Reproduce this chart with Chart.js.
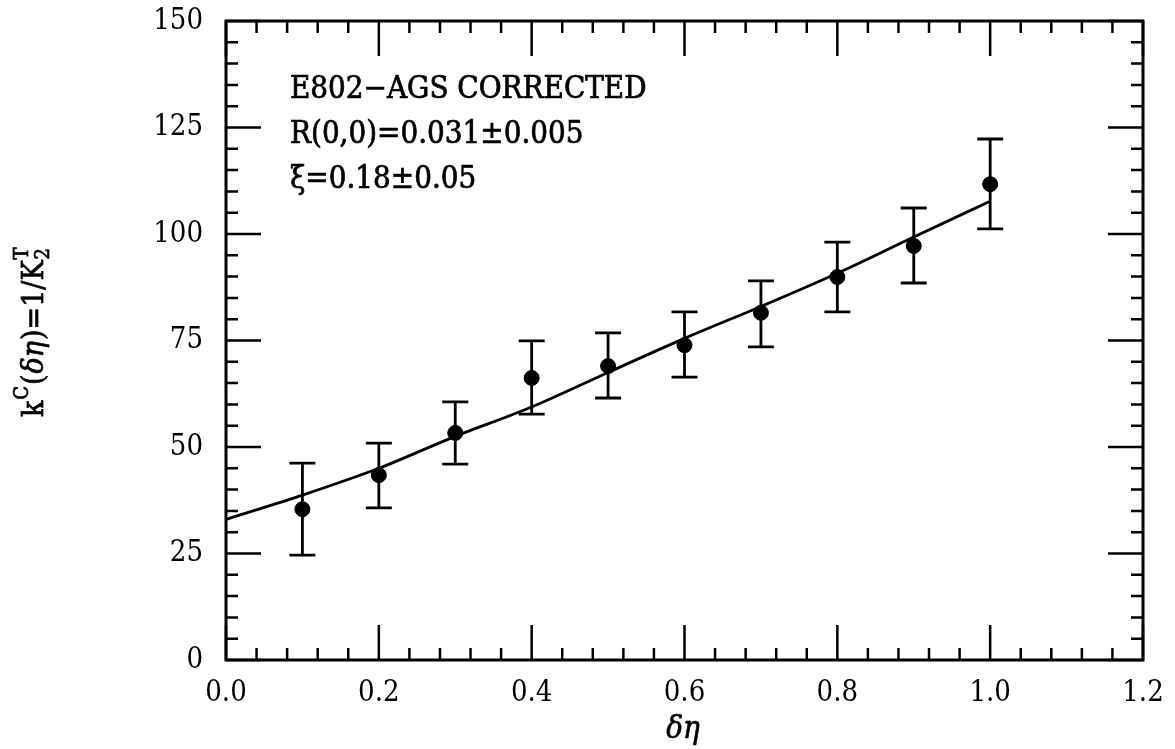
<!DOCTYPE html>
<html>
<head>
<meta charset="utf-8">
<script src="https://cdn.jsdelivr.net/npm/chart.js@4.4.0/dist/chart.umd.min.js"></script>
<style>
    html, body { margin: 0; padding: 0; background: #fff; }
    #wrap { width: 1175px; height: 749px; position: relative; }
</style>
</head>
<body>
<div id="wrap"><canvas id="chart" width="1175" height="749"></canvas></div>
<script>
// measured points (delta eta, k^C) with asymmetric error bar ends
const etaValues = [0.1, 0.2, 0.3, 0.4, 0.5, 0.6, 0.7, 0.8, 0.9, 1.0];
const kValues   = [35.4, 43.4, 53.3, 66.2, 69.0, 73.9, 81.5, 89.9, 97.2, 111.7];
const kErrHigh  = [46.2, 50.9, 60.6, 74.9, 76.8, 81.7, 89.0, 98.1, 106.1, 122.3];
const kErrLow   = [24.6, 35.7, 46.0, 57.7, 61.5, 66.4, 73.5, 81.7, 88.5, 101.2];

// fitted curve
const fitEta = [0.0, 0.1, 0.2, 0.3, 0.4, 0.5, 0.6, 0.7, 0.8, 0.9, 1.0];
const fitK   = [33.0, 38.7, 45.0, 52.5, 59.4, 67.5, 75.5, 83.0, 90.8, 99.3, 107.7];

const xTicks = [0.0, 0.2, 0.4, 0.6, 0.8, 1.0, 1.2];
const yTicks = [0, 25, 50, 75, 100, 125, 150];

const notes = ['E802\u2212AGS CORRECTED', 'R(0,0)=0.031\u00b10.005', '\u03be=0.18\u00b10.05'];

const serif = '"DejaVu Serif Condensed", "DejaVu Serif", serif';

// frame + inward ticks on all four sides
const framePlugin = {
    id: 'frame',
    afterDatasetsDraw(chart) {
        const ctx = chart.ctx;
        const a = chart.chartArea;
        const xs = chart.scales.x, ys = chart.scales.y;
        ctx.save();
        ctx.strokeStyle = '#000';
        ctx.lineWidth = 3;
        ctx.strokeRect(a.left, a.top, a.right - a.left, a.bottom - a.top);

        ctx.lineWidth = 2.5;
        ctx.beginPath();
        for (let v = 0; v <= 1.2001; v += 0.04) {
            const major = Math.abs(v / 0.2 - Math.round(v / 0.2)) < 1e-6;
            const len = major ? 35 : 12;
            const px = xs.getPixelForValue(v);
            ctx.moveTo(px, a.bottom); ctx.lineTo(px, a.bottom - len);
            ctx.moveTo(px, a.top); ctx.lineTo(px, a.top + len);
        }
        for (let v = 0; v <= 150; v += 5) {
            const major = v % 25 === 0;
            const len = major ? 35 : 12;
            const py = ys.getPixelForValue(v);
            ctx.moveTo(a.left, py); ctx.lineTo(a.left + len, py);
            ctx.moveTo(a.right, py); ctx.lineTo(a.right - len, py);
        }
        ctx.stroke();
        ctx.restore();
    }
};

// vertical error bars with caps
const errorBarPlugin = {
    id: 'errorBars',
    afterDatasetsDraw(chart) {
        const ctx = chart.ctx;
        const xs = chart.scales.x, ys = chart.scales.y;
        ctx.save();
        ctx.strokeStyle = '#000';
        ctx.lineWidth = 2.8;
        ctx.beginPath();
        etaValues.forEach((e, i) => {
            const px = xs.getPixelForValue(e);
            const hi = ys.getPixelForValue(kErrHigh[i]);
            const lo = ys.getPixelForValue(kErrLow[i]);
            ctx.moveTo(px, hi); ctx.lineTo(px, lo);
            ctx.moveTo(px - 13, hi); ctx.lineTo(px + 13, hi);
            ctx.moveTo(px - 13, lo); ctx.lineTo(px + 13, lo);
        });
        ctx.stroke();
        ctx.restore();
    }
};

function heavyText(ctx, t, x, y) {
    ctx.fillText(t, x, y);
    ctx.strokeText(t, x, y);
}

// annotation text and axis titles
const textPlugin = {
    id: 'texts',
    afterDraw(chart) {
        const ctx = chart.ctx;
        ctx.save();
        ctx.fillStyle = '#000';
        ctx.strokeStyle = '#000';
        ctx.lineWidth = 0.7;
        ctx.font = '31px ' + serif;
        ctx.textAlign = 'left';
        ctx.textBaseline = 'alphabetic';
        notes.forEach((t, i) => heavyText(ctx, t, 290, 98 + i * 45));

        // x title
        ctx.font = 'italic 31px ' + serif;
        ctx.textAlign = 'center';
        heavyText(ctx, '\u03b4\u03b7', 683, 738);

        // y title, rotated, with super/subscripts
        ctx.translate(43, 332);
        ctx.rotate(-Math.PI / 2);
        const big = '30px ' + serif, ital = 'italic 30px ' + serif, small = '20px ' + serif;
        const parts = [
            ['k', big, 0], ['C', small, -15], ['(', big, 0], ['\u03b4\u03b7', ital, 0],
            [')=1/K', big, 0], ['2', small, 6]
        ];
        let w = 0;
        parts.forEach(p => { ctx.font = p[1]; w += ctx.measureText(p[0]).width + 1; });
        let x = -w / 2;
        ctx.textAlign = 'left';
        parts.forEach(p => {
            ctx.font = p[1];
            heavyText(ctx, p[0], x, p[2]);
            if (p[0] === '2') {
                heavyText(ctx, 'T', x, -15);
            }
            x += ctx.measureText(p[0]).width + 1;
        });
        ctx.restore();
    }
};

new Chart(document.getElementById('chart'), {
    type: 'scatter',
    data: {
        datasets: [{
            label: 'fit',
            data: fitEta.map((e, i) => ({ x: e, y: fitK[i] })),
            showLine: true,
            borderColor: '#000',
            borderWidth: 2.8,
            pointRadius: 0,
            cubicInterpolationMode: 'monotone',
            fill: false
        }, {
            label: 'E802',
            data: etaValues.map((e, i) => ({ x: e, y: kValues[i] })),
            backgroundColor: '#000',
            borderColor: '#000',
            pointRadius: 7.5,
            pointHoverRadius: 7.5
        }]
    },
    options: {
        responsive: false,
        animation: false,
        events: [],
        layout: { padding: { top: 21, right: 32, left: 0, bottom: 0 } },
        plugins: { legend: { display: false }, tooltip: { enabled: false } },
        scales: {
            x: {
                type: 'linear',
                min: 0, max: 1.2,
                afterBuildTicks: s => { s.ticks = xTicks.map(v => ({ value: v })); },
                afterFit: s => { s.height = 89; },
                grid: { display: false },
                border: { display: false },
                ticks: {
                    color: '#000',
                    padding: 8,
                    font: { family: serif, size: 29 },
                    callback: v => Number(v).toFixed(1)
                }
            },
            y: {
                type: 'linear',
                min: 0, max: 150,
                afterBuildTicks: s => { s.ticks = yTicks.map(v => ({ value: v })); },
                afterFit: s => {
                    s.width = 226;
                    s.paddingTop = 0;
                    s.paddingBottom = 0;
                },
                grid: { display: false },
                border: { display: false },
                ticks: {
                    color: '#000',
                    padding: 15,
                    font: { family: serif, size: 29 }
                }
            }
        }
    },
    plugins: [framePlugin, errorBarPlugin, textPlugin]
});
</script>
</body>
</html>
